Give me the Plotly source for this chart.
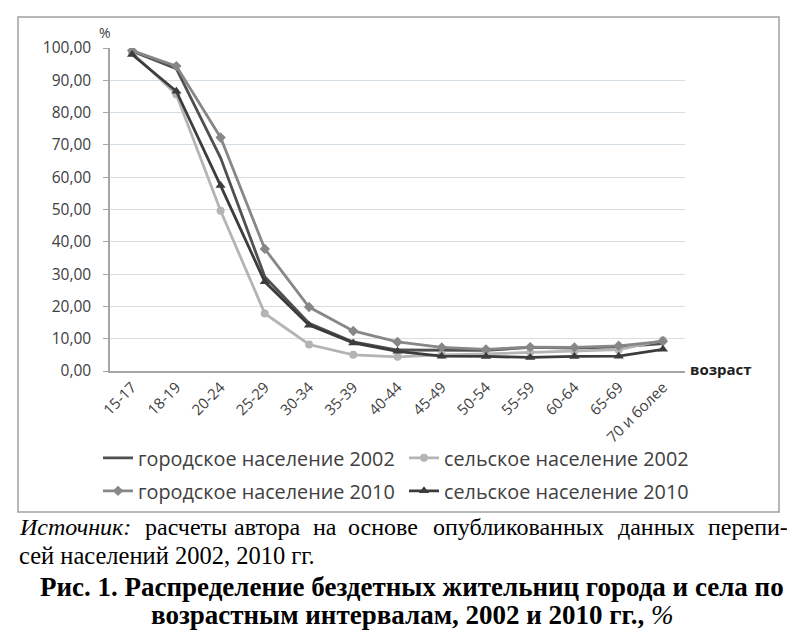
import plotly.graph_objects as go

categories = ["15-17", "18-19", "20-24", "25-29", "30-34", "35-39", "40-44",
              "45-49", "50-54", "55-59", "60-64", "65-69", "70 и более"]
urban_2002 = [99.0, 93.6, 66.0, 29.2, 14.8, 9.0, 6.5, 6.5, 6.4, 7.3, 7.1, 7.5, 8.5]
rural_2002 = [98.6, 85.6, 49.6, 17.8, 8.2, 5.0, 4.4, 5.0, 5.3, 5.8, 6.1, 6.6, 9.5]
urban_2010 = [99.2, 94.4, 72.3, 37.8, 19.8, 12.4, 9.0, 7.3, 6.7, 7.4, 7.3, 7.8, 9.2]
rural_2010 = [98.0, 86.6, 57.4, 27.6, 14.2, 8.7, 6.1, 4.6, 4.5, 4.2, 4.5, 4.6, 6.7]

source_words = ["<i>Источник:</i>", "расчеты", "автора", "на", "основе",
                "опубликованных", "данных", "перепи-"]
source_line2 = "сей населений 2002, 2010 гг."
title_line1 = "<b>Рис. 1. Распределение бездетных жительниц города и села по</b>"
title_line2 = "<b>возрастным интервалам, 2002 и 2010 гг.,</b> <i>%</i>"

FONT = "Open Sans"
SERIF = "Liberation Serif"

fig = go.Figure()
fig.add_trace(go.Scatter(x=categories, y=urban_2002, name="городское население 2002",
                         mode="lines", line=dict(color="#505050", width=2.8), legend="legend"))
fig.add_trace(go.Scatter(x=categories, y=rural_2002, name="сельское население 2002",
                         mode="lines+markers", line=dict(color="#b4b4b4", width=2.8),
                         marker=dict(symbol="circle", size=8, color="#b4b4b4"), legend="legend"))
fig.add_trace(go.Scatter(x=categories, y=urban_2010, name="городское население 2010",
                         mode="lines+markers", line=dict(color="#878787", width=2.8),
                         marker=dict(symbol="diamond", size=8, color="#878787"), legend="legend2"))
fig.add_trace(go.Scatter(x=categories, y=rural_2010, name="сельское население 2010",
                         mode="lines+markers", line=dict(color="#3c3c3c", width=2.8),
                         marker=dict(symbol="triangle-up", size=9, color="#3c3c3c"), legend="legend2"))

# page body has an 8px margin; work in screen pixels and convert
OFF = 8
W, H = 787, 626
L, R, T, B = 102, 110, 40, 263
pw, ph = W - L - R, H - T - B


def px(x):
    return (x - OFF - L) / pw


def py(y):
    return (H - B - (y - OFF)) / ph


leg_common = dict(orientation="h", xanchor="left", yanchor="middle",
                  entrywidth=261, entrywidthmode="pixels",
                  font=dict(size=19.8, family=FONT, color="#404040"),
                  itemwidth=30, tracegroupgap=0, bgcolor="rgba(0,0,0,0)")

fig.update_layout(
    width=W, height=H,
    margin=dict(l=L, r=R, t=T, b=B),
    paper_bgcolor="white", plot_bgcolor="white",
    separators=",.",
    font=dict(family=FONT, color="#404040", size=15),
    showlegend=True,
    legend=dict(x=px(98), y=py(458), **leg_common),
    legend2=dict(x=px(98), y=py(491), **leg_common),
    xaxis=dict(type="category", showgrid=False, showline=True, linecolor="#a6a6a6", linewidth=1.5,
               tickangle=-45, tickfont=dict(size=15, color="#404040"), ticks="", range=[-0.5, 12.5]),
    yaxis=dict(range=[0, 100], dtick=10, tickformat=".2f", showgrid=True, gridcolor="#d5dde5",
               gridwidth=1, showline=True, linecolor="#a6a6a6", linewidth=1.5, ticks="outside",
               ticklen=5, tickcolor="#a6a6a6", tickfont=dict(size=15.5, color="#404040"),
               ticklabelstandoff=9, zeroline=False),
)

# chart border
fig.add_shape(type="rect", xref="paper", yref="paper", x0=px(18), x1=px(779), y0=py(512), y1=py(17),
              line=dict(color="#a0a0a0", width=1.5), layer="below")


def note(text, x, y, size, family, color, xanchor="center"):
    fig.add_annotation(text=text, xref="paper", yref="paper", x=px(x), y=py(y),
                       xanchor=xanchor, yanchor="middle", showarrow=False,
                       font=dict(size=size, family=family, color=color))


note("%", 105, 32, 14, FONT, "#404040")
note("<b>возраст</b>", 688, 369, 15, FONT, "#202020", xanchor="left")

# justified first source line: word left edges spread evenly across the text width
word_left = [17, 143, 232, 311, 346, 431, 616]
for w, xl in zip(source_words[:-1], word_left):
    note(w, xl, 527, 24, SERIF, "black", xanchor="left")
note(source_words[-1], 790, 527, 24, SERIF, "black", xanchor="right")
note(source_line2, 17, 555, 24.5, SERIF, "black", xanchor="left")
note(title_line1, 412, 587, 27, SERIF, "black")
note(title_line2, 412, 615, 27, SERIF, "black")

fig.write_html("out.html")
